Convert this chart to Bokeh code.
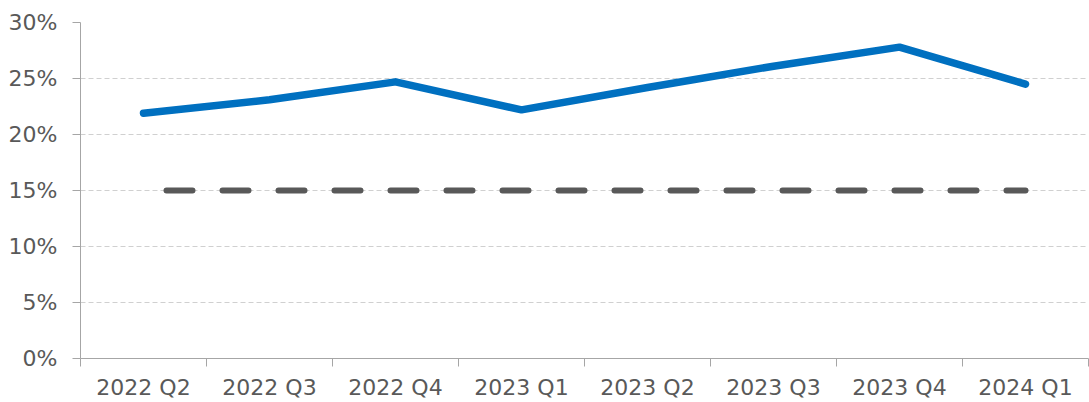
from bokeh.plotting import figure
from bokeh.models import Range1d, FixedTicker, PrintfTickFormatter
from bokeh.embed import file_html
from bokeh.resources import INLINE

quarters = ["2022 Q2", "2022 Q3", "2022 Q4", "2023 Q1", "2023 Q2", "2023 Q3", "2023 Q4", "2024 Q1"]
rate = [21.9, 23.1, 24.7, 22.2, 24.2, 26.1, 27.8, 24.5]
target = [15.0] * len(quarters)
y_ticks = [0, 5, 10, 15, 20, 25, 30]

xs = [i + 0.5 for i in range(len(quarters))]

p = figure(width=1089, height=402, output_backend="svg", toolbar_location=None,
           x_range=Range1d(0, len(quarters)), y_range=Range1d(0, 30),
           min_border_left=80, min_border_right=1, min_border_top=22, min_border_bottom=44)
p.outline_line_color = None
p.background_fill_color = "white"
p.border_fill_color = "white"

FONT = "DejaVu Sans"
TXT = "#595959"
AX = "#a6a6a6"

# x axis
p.xaxis.ticker = FixedTicker(ticks=xs, minor_ticks=list(range(len(quarters) + 1)))
p.xaxis.major_label_overrides = {x: q for x, q in zip(xs, quarters)}
p.xaxis.major_tick_out = 0
p.xaxis.major_tick_in = 0
p.xaxis.minor_tick_out = 8
p.xaxis.minor_tick_in = 0
p.xaxis.minor_tick_line_color = AX
p.xaxis.axis_line_color = AX
p.xaxis.major_label_text_font = FONT
p.xaxis.major_label_text_font_size = "22px"
p.xaxis.major_label_text_color = TXT
p.xaxis.major_label_standoff = 8

# y axis
p.yaxis.ticker = FixedTicker(ticks=y_ticks, minor_ticks=[])
p.yaxis.formatter = PrintfTickFormatter(format="%d%%")
p.yaxis.major_tick_out = 8
p.yaxis.major_tick_in = 0
p.yaxis.major_tick_line_color = AX
p.yaxis.axis_line_color = AX
p.yaxis.major_label_text_font = FONT
p.yaxis.major_label_text_font_size = "22px"
p.yaxis.major_label_text_color = TXT
p.yaxis.major_label_standoff = 15

p.xgrid.grid_line_color = None
p.ygrid.grid_line_color = "#d0d0d0"
p.ygrid.grid_line_dash = "5 3"
p.ygrid.grid_line_width = 1

p.line(xs, target, line_color="#595959", line_width=6, line_cap="round",
       line_dash="26 30", line_dash_offset=33)
p.line(xs, rate, line_color="#0070C0", line_width=7.5, line_cap="round", line_join="round")

open("out.html", "w").write(file_html(p, INLINE))
